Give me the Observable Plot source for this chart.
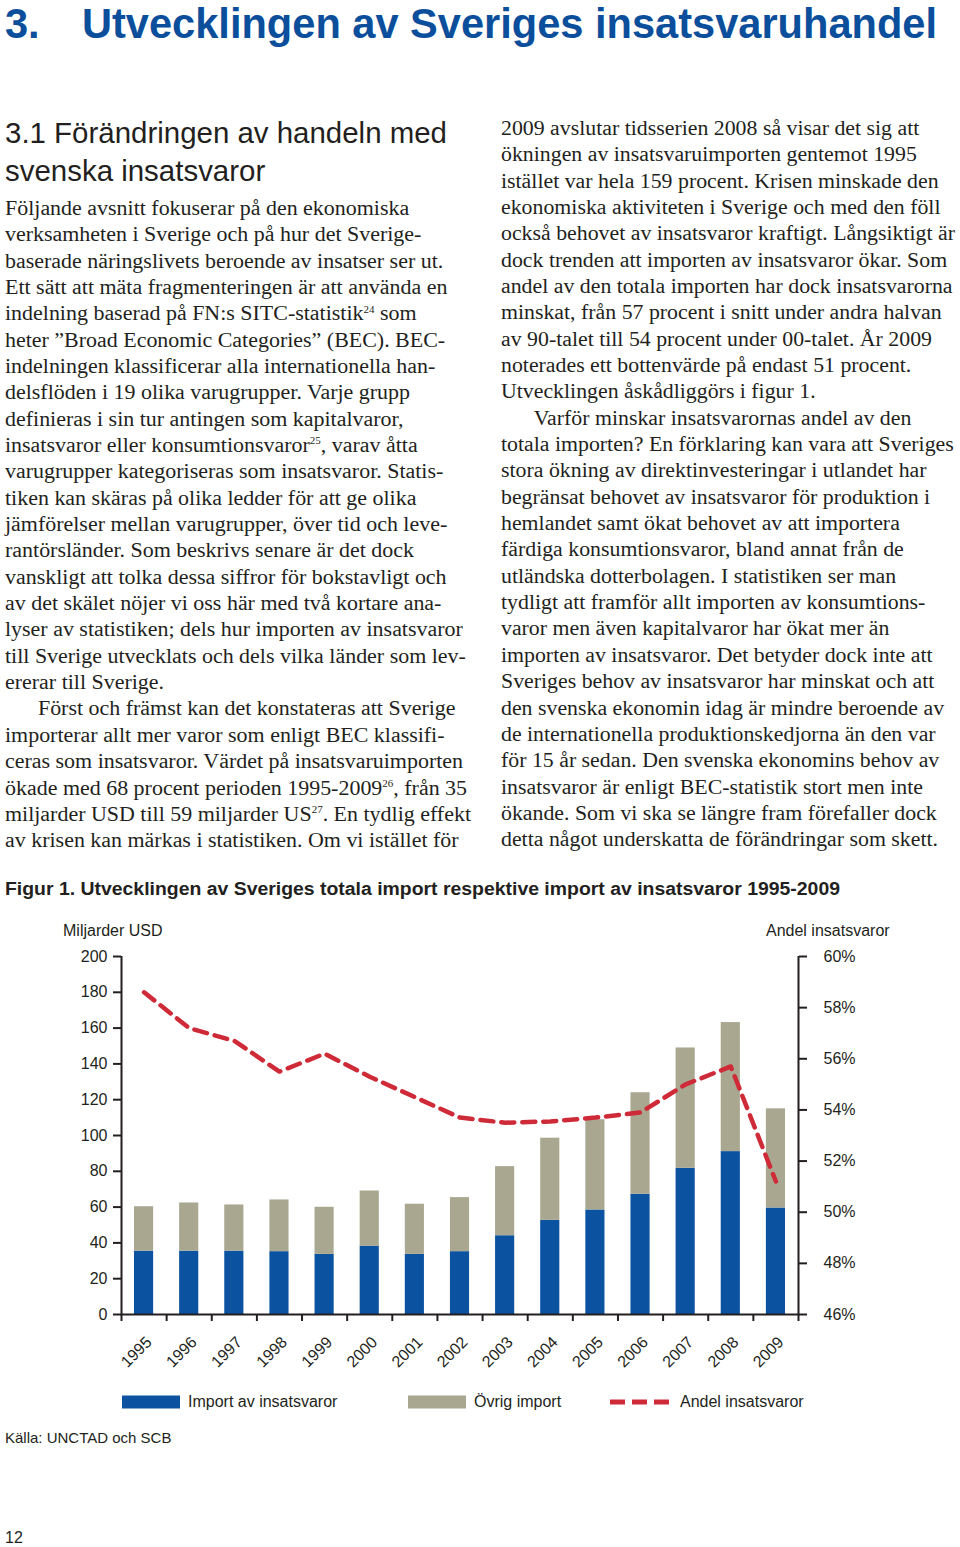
<!DOCTYPE html>
<html><head><meta charset="utf-8">
<script src="https://cdn.jsdelivr.net/npm/d3@7"></script>
<script src="https://cdn.jsdelivr.net/npm/@observablehq/plot@0.6"></script>
<style>
body{margin:0;background:#fff;}
#page{position:relative;width:960px;height:1547px;overflow:hidden;background:#fff;color:#231f20;}
.abs{position:absolute;white-space:nowrap;transform-origin:left center;}
.serif{font-family:"Liberation Serif","DejaVu Serif",serif;}
.sans{font-family:"Liberation Sans",Arial,Helvetica,sans-serif;}
sup{font-size:0.5em;vertical-align:0;position:relative;top:-0.75em;}
#chart{position:absolute;left:0;top:900px;}
</style></head><body><div id="page"><div id="chart"></div></div>
<script>
// ---------- data ----------
const years = [1995,1996,1997,1998,1999,2000,2001,2002,2003,2004,2005,2006,2007,2008,2009];
const importInsatsvaror = [35.4,35.4,35.4,35.1,33.6,38.2,33.6,35.1,44.0,52.6,58.4,67.2,81.7,91.0,59.5];
const totalImport = [60.2,62.3,61.2,64.0,59.9,69.0,61.6,65.3,82.6,98.5,108.8,123.9,148.9,163.1,114.9];
const andelInsatsvaror = [58.6,57.2,56.7,55.5,56.2,55.3,54.5,53.7,53.5,53.55,53.7,53.9,55.0,55.7,51.2];
const seriesNames = ["Import av insatsvaror","Övrig import","Andel insatsvaror"];
const leftTicks = [0,20,40,60,80,100,120,140,160,180,200];
const rightTicks = [46,48,50,52,54,56,58,60];

const BLUE = "#0b52a0", GRAY = "#a9a790", RED = "#cf2a37", INK = "#231f20";

// ---------- page text ----------
const page = document.getElementById("page");
function add(html, cls, left, centerY, size, lh, extra) {
  const d = document.createElement("div");
  d.className = "abs " + cls;
  d.innerHTML = html;
  d.style.left = left + "px";
  d.style.fontSize = size + "px";
  d.style.lineHeight = lh + "px";
  d.style.top = (centerY - lh / 2) + "px";
  if (extra) Object.assign(d.style, extra);
  page.appendChild(d);
  return d;
}
function fit(el, target) {
  const w = el.getBoundingClientRect().width;
  el.style.transform = `scaleX(${target / w})`;
  return target / w;
}

const hNum = add("3.", "sans", 5, 23.5, 42, 47, {fontWeight: "bold", color: "#0b4f9c"});
const headline = add("Utvecklingen av Sveriges insatsvaruhandel", "sans", 82, 23.5, 42, 47, {fontWeight: "bold", color: "#0b4f9c"});
const kh = fit(headline, 855);
hNum.style.transform = `scaleX(${kh})`;

const h2a = add("3.1 Förändringen av handeln med", "sans", 5, 133, 30, 36);
const k2 = fit(h2a, 442);
const h2b = add("svenska insatsvaror", "sans", 5, 171, 30, 36);
h2b.style.transform = `scaleX(${k2})`;

const leftLines = [
  "Följande avsnitt fokuserar på den ekonomiska",
  "verksamheten i Sverige och på hur det Sverige-",
  "baserade näringslivets beroende av insatser ser ut.",
  "Ett sätt att mäta fragmenteringen är att använda en",
  "indelning baserad på FN:s SITC-statistik<sup>24</sup> som",
  "heter ”Broad Economic Categories” (BEC). BEC-",
  "indelningen klassificerar alla internationella han-",
  "delsflöden i 19 olika varugrupper. Varje grupp",
  "definieras i sin tur antingen som kapitalvaror,",
  "insatsvaror eller konsumtionsvaror<sup>25</sup>, varav åtta",
  "varugrupper kategoriseras som insatsvaror. Statis-",
  "tiken kan skäras på olika ledder för att ge olika",
  "jämförelser mellan varugrupper, över tid och leve-",
  "rantörsländer. Som beskrivs senare är det dock",
  "vanskligt att tolka dessa siffror för bokstavligt och",
  "av det skälet nöjer vi oss här med två kortare ana-",
  "lyser av statistiken; dels hur importen av insatsvaror",
  "till Sverige utvecklats och dels vilka länder som lev-",
  "ererar till Sverige.",
  "\u2003\u2002Först och främst kan det konstateras att Sverige",
  "importerar allt mer varor som enligt BEC klassifi-",
  "ceras som insatsvaror. Värdet på insatsvaruimporten",
  "ökade med 68 procent perioden 1995-2009<sup>26</sup>, från 35",
  "miljarder USD till 59 miljarder US<sup>27</sup>. En tydlig effekt",
  "av krisen kan märkas i statistiken. Om vi istället för"
];
const rightLines = [
  "2009 avslutar tidsserien 2008 så visar det sig att",
  "ökningen av insatsvaruimporten gentemot 1995",
  "istället var hela 159 procent. Krisen minskade den",
  "ekonomiska aktiviteten i Sverige och med den föll",
  "också behovet av insatsvaror kraftigt. Långsiktigt är",
  "dock trenden att importen av insatsvaror ökar. Som",
  "andel av den totala importen har dock insatsvarorna",
  "minskat, från 57 procent i snitt under andra halvan",
  "av 90-talet till 54 procent under 00-talet. År 2009",
  "noterades ett bottenvärde på endast 51 procent.",
  "Utvecklingen åskådliggörs i figur 1.",
  "\u2003\u2002Varför minskar insatsvarornas andel av den",
  "totala importen? En förklaring kan vara att Sveriges",
  "stora ökning av direktinvesteringar i utlandet har",
  "begränsat behovet av insatsvaror för produktion i",
  "hemlandet samt ökat behovet av att importera",
  "färdiga konsumtionsvaror, bland annat från de",
  "utländska dotterbolagen. I statistiken ser man",
  "tydligt att framför allt importen av konsumtions-",
  "varor men även kapitalvaror har ökat mer än",
  "importen av insatsvaror. Det betyder dock inte att",
  "Sveriges behov av insatsvaror har minskat och att",
  "den svenska ekonomin idag är mindre beroende av",
  "de internationella produktionskedjorna än den var",
  "för 15 år sedan. Den svenska ekonomins behov av",
  "insatsvaror är enligt BEC-statistik stort men inte",
  "ökande. Som vi ska se längre fram förefaller dock",
  "detta något underskatta de förändringar som skett."
];
const LH = 26.35, FS = 20.5;
const leftEls = leftLines.map((t, i) => add(t, "serif", 5, 208 + i * LH, FS, LH));
const wL = leftEls.map(e => e.getBoundingClientRect().width);
const sL = Math.min(459 / wL[16], 466 / Math.max(...wL));
leftEls.forEach(e => e.style.transform = `scaleX(${sL})`);
const rightEls = rightLines.map((t, i) => add(t, "serif", 501, 128 + i * LH, FS, LH));
const wR = rightEls.map(e => e.getBoundingClientRect().width);
const sR = Math.min(455 / wR[6], 454 / Math.max(...wR));
rightEls.forEach(e => e.style.transform = `scaleX(${sR})`);

const cap = add("Figur 1. Utvecklingen av Sveriges totala import respektive import av insatsvaror 1995-2009", "sans", 5, 889, 18, 22, {fontWeight: "bold"});
fit(cap, 835);

add("Miljarder USD", "sans", 63, 931, 16, 20);
add("Andel insatsvaror", "sans", 766, 931, 16, 20);
add("Källa: UNCTAD och SCB", "sans", 5, 1438, 15, 20);
add("12", "sans", 5, 1538, 16, 20);

// legend
function legendItem(x, kind, label) {
  let sw;
  if (kind === "dash") sw = `<svg width="60" height="14" style="vertical-align:middle"><line x1="0" x2="60" y1="7" y2="7" stroke="${RED}" stroke-width="5" stroke-dasharray="15,7"/></svg>`;
  else sw = `<svg width="58" height="14" style="vertical-align:middle"><rect x="0" y="0.5" width="58" height="13" fill="${kind}"/></svg>`;
  add(`${sw}<span style="margin-left:${kind === "dash" ? 10 : 8}px;vertical-align:middle">${label}</span>`, "sans", x, 1401, 16, 20);
}
legendItem(122, BLUE, seriesNames[0]);
legendItem(408, GRAY, seriesNames[1]);
legendItem(610, "dash", seriesNames[2]);

// ---------- chart ----------
const toY = p => (p - 46) * 200 / 14;
const bars = [];
years.forEach((y, i) => {
  bars.push({year: y, series: seriesNames[0], y1: 0, y2: importInsatsvaror[i]});
  bars.push({year: y, series: seriesNames[1], y1: importInsatsvaror[i], y2: totalImport[i]});
});
const lineData = years.map((y, i) => ({year: y, andel: andelInsatsvaror[i]}));
const boundaries = years.map(y => y - 0.5).concat([years[years.length - 1] + 0.5]);

const chart = Plot.plot({
  width: 960, height: 480,
  marginTop: 56, marginBottom: 66, marginLeft: 121, marginRight: 162,
  style: {fontFamily: "'Liberation Sans', Arial, sans-serif", fontSize: "16px", color: INK, background: "transparent", overflow: "visible"},
  x: {type: "linear", domain: [years[0] - 0.5, years[years.length - 1] + 0.5]},
  y: {domain: [0, 200]},
  color: {domain: seriesNames.slice(0, 2), range: [BLUE, GRAY]},
  marks: [
    Plot.rect(bars, {x1: d => d.year - 0.5, x2: d => d.year + 0.5, y1: "y1", y2: "y2", fill: "series", insetLeft: 13, insetRight: 13}),
    Plot.line(lineData, {x: "year", y: d => toY(d.andel), stroke: RED, strokeWidth: 4.5, strokeDasharray: "13,8"}),
    Plot.ruleY([0], {stroke: INK, strokeWidth: 2}),
    Plot.ruleX([years[0] - 0.5, years[years.length - 1] + 0.5], {y1: 0, y2: 200, stroke: INK, strokeWidth: 2}),
    Plot.axisY({anchor: "left", ticks: leftTicks, tickSize: 8, tickPadding: 6, label: null, strokeWidth: 2, stroke: INK}),
    Plot.axisY({anchor: "right", ticks: rightTicks.map(toY), tickFormat: v => Math.round(v * 14 / 200 + 46) + "%", tickSize: 8, tickPadding: 17, label: null, strokeWidth: 2, stroke: INK}),
    Plot.axisX({ticks: boundaries, tickSize: 7, tickFormat: () => "", label: null, strokeWidth: 2, stroke: INK}),
    Plot.axisX({ticks: years, tickSize: 0, tickRotate: -45, tickPadding: 25, dx: 5, tickFormat: d => String(d), label: null})
  ]
});
document.getElementById("chart").appendChild(chart);
</script>
</body></html>
